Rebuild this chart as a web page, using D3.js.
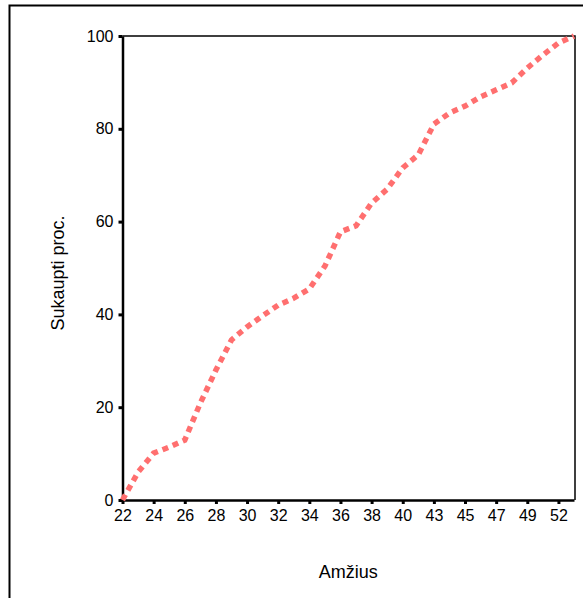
<!DOCTYPE html>
<html>
<head>
<meta charset="utf-8">
<script src="https://cdn.jsdelivr.net/npm/d3@7"></script>
<style>
  body { margin: 0; background: #fff; }
  svg { display: block; font-family: "Liberation Sans", Arial, sans-serif; }
  .axis path, .axis line { stroke: #000; }
  .axis text { font-size: 16px; fill: #000; }
</style>
</head>
<body>
<div id="chart"></div>
<script>
// ages on the category axis (only every other one is labelled)
var ages = ["22","23","24","25","26","27","28","29","30","31","32","33","34","35","36",
            "37","38","39","40","42","43","44","45","46","47","48","49","50","52","55"];
// cumulative percent for each age
var cumPct = [0, 6.0, 10.1, 11.4, 12.9, 20.9, 28.0, 34.5, 37.3, 39.7, 42.0, 43.5, 45.5, 50.4, 57.8,
              59.1, 64.0, 67.0, 71.6, 74.4, 81.0, 83.4, 84.9, 86.9, 88.4, 89.9, 93.1, 95.9, 98.5, 100];
var yTicks = [0, 20, 40, 60, 80, 100];

var W = 583, H = 598;
var pLeft = 122.5, pRight = 574, pTop = 36, pBottom = 500;

var svg = d3.select("#chart").append("svg").attr("width", W).attr("height", H);

// outer frame
svg.append("rect")
  .attr("x", 9.5).attr("y", 5.5)
  .attr("width", 700).attr("height", 700)
  .attr("fill", "none").attr("stroke", "#000").attr("stroke-width", 2);

var x = d3.scalePoint().domain(ages).range([pLeft, pRight]);
var y = d3.scaleLinear().domain([0, 100]).range([pBottom, pTop]);

// box around plot (top and right)
svg.append("path")
  .attr("d", "M" + pLeft + "," + pTop + "H" + (pRight + 1) + "V" + pBottom)
  .attr("fill", "none").attr("stroke", "#000").attr("stroke-width", 1.5);

var xAxis = svg.append("g").attr("class", "axis")
  .attr("transform", "translate(0," + pBottom + ")")
  .call(d3.axisBottom(x)
    .tickValues(ages.filter(function(d, i) { return i % 2 == 0; }))
    .tickSize(4).tickSizeOuter(0).tickPadding(6));
xAxis.select(".domain").attr("stroke-width", 2.5);
xAxis.selectAll(".tick line").attr("stroke-width", 3);

var yAxis = svg.append("g").attr("class", "axis")
  .attr("transform", "translate(" + pLeft + ",0)")
  .call(d3.axisLeft(y).tickValues(yTicks).tickSize(4).tickSizeOuter(0).tickPadding(5));
yAxis.select(".domain").attr("stroke-width", 2.5);
yAxis.selectAll(".tick line").attr("stroke-width", 3);

var line = d3.line()
  .x(function(d, i) { return x(ages[i]); })
  .y(function(d) { return y(d); });

svg.append("path")
  .datum(cumPct)
  .attr("d", line)
  .attr("fill", "none")
  .attr("stroke", "#ff6f6f")
  .attr("stroke-width", 5.5)
  .attr("stroke-dasharray", "6,5");

svg.append("text")
  .attr("x", (pLeft + pRight) / 2).attr("y", 578)
  .attr("text-anchor", "middle")
  .style("font-size", "18px")
  .text("Amžius");

svg.append("text")
  .attr("transform", "translate(64,273) rotate(-90)")
  .attr("text-anchor", "middle")
  .style("font-size", "18px")
  .text("Sukaupti proc.");
</script>
</body>
</html>
